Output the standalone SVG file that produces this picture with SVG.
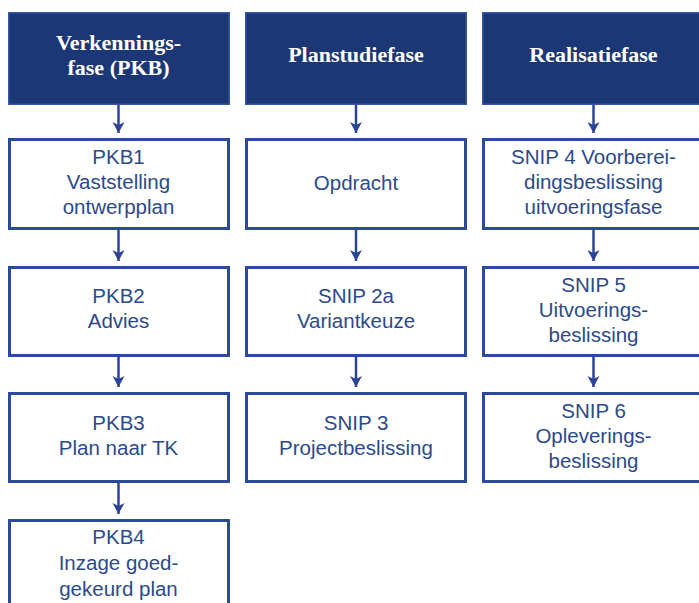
<svg xmlns="http://www.w3.org/2000/svg" width="699" height="603" viewBox="0 0 699 603">
<style>
.hdr rect{fill:#1c3775;stroke:#3656a6;stroke-width:1.5}
.hdr text{font-family:"Liberation Serif","Times New Roman",serif;font-weight:bold;font-size:22px;fill:#ffffff;text-anchor:middle}
.box rect{fill:#ffffff;stroke:#2b4a9b;stroke-width:3}
.box text{font-family:"Liberation Sans",Arial,sans-serif;font-size:20.5px;fill:#2b4a8c;text-anchor:middle}
.conn line{stroke:#2b449a;stroke-width:2.5}
</style>
<defs>
<marker id="ah" markerUnits="userSpaceOnUse" markerWidth="14" markerHeight="14" refX="12" refY="7" orient="auto" viewBox="0 0 14 14">
<path d="M1,1 L12,7 L1,13 L4,7 Z" fill="#2b449a"/>
</marker>
</defs>
<rect width="699" height="603" fill="#ffffff"/>

<g class="hdr" id="h1"><rect x="8.75" y="12.75" width="220.5" height="91.5"/><text x="118.5" y="50">Verkennings-</text><text x="118.5" y="75">fase (PKB)</text></g>
<g class="hdr" id="h2"><rect x="245.75" y="12.75" width="220.5" height="91.5"/><text x="356" y="62">Planstudiefase</text></g>
<g class="hdr" id="h3"><rect x="482.75" y="12.75" width="220.5" height="91.5"/><text x="593.5" y="62">Realisatiefase</text></g>

<g class="box" id="pkb1"><rect x="9.5" y="139.5" width="219" height="89"/><text x="118.5" y="164">PKB1</text><text x="118.5" y="189">Vaststelling</text><text x="118.5" y="214">ontwerpplan</text></g>
<g class="box" id="pkb2"><rect x="9.5" y="267.5" width="219" height="88"/><text x="118.5" y="303">PKB2</text><text x="118.5" y="328">Advies</text></g>
<g class="box" id="pkb3"><rect x="9.5" y="393.5" width="219" height="88"/><text x="118.5" y="430">PKB3</text><text x="118.5" y="455">Plan naar TK</text></g>
<g class="box" id="pkb4"><rect x="9.5" y="520.5" width="219" height="90"/><text x="118.5" y="544">PKB4</text><text x="118.5" y="570">Inzage goed-</text><text x="118.5" y="596">gekeurd plan</text></g>

<g class="box" id="opdracht"><rect x="246.5" y="139.5" width="219" height="89"/><text x="356" y="190">Opdracht</text></g>
<g class="box" id="snip2a"><rect x="246.5" y="267.5" width="219" height="88"/><text x="356" y="303">SNIP 2a</text><text x="356" y="328">Variantkeuze</text></g>
<g class="box" id="snip3"><rect x="246.5" y="393.5" width="219" height="88"/><text x="356" y="430">SNIP 3</text><text x="356" y="455">Projectbeslissing</text></g>

<g class="box" id="snip4"><rect x="483.5" y="139.5" width="219" height="89"/><text x="593.5" y="164">SNIP 4 Voorberei-</text><text x="593.5" y="189">dingsbeslissing</text><text x="593.5" y="214">uitvoeringsfase</text></g>
<g class="box" id="snip5"><rect x="483.5" y="267.5" width="219" height="88"/><text x="593.5" y="292">SNIP 5</text><text x="593.5" y="317">Uitvoerings-</text><text x="593.5" y="342">beslissing</text></g>
<g class="box" id="snip6"><rect x="483.5" y="393.5" width="219" height="88"/><text x="593.5" y="418">SNIP 6</text><text x="593.5" y="443">Opleverings-</text><text x="593.5" y="468">beslissing</text></g>

<g class="conn" id="connectors">
<line x1="118.5" y1="105" x2="118.5" y2="133" marker-end="url(#ah)"/>
<line x1="118.5" y1="230" x2="118.5" y2="261" marker-end="url(#ah)"/>
<line x1="118.5" y1="356" x2="118.5" y2="387" marker-end="url(#ah)"/>
<line x1="118.5" y1="483" x2="118.5" y2="514" marker-end="url(#ah)"/>
<line x1="356" y1="105" x2="356" y2="133" marker-end="url(#ah)"/>
<line x1="356" y1="230" x2="356" y2="261" marker-end="url(#ah)"/>
<line x1="356" y1="356" x2="356" y2="387" marker-end="url(#ah)"/>
<line x1="593.5" y1="105" x2="593.5" y2="133" marker-end="url(#ah)"/>
<line x1="593.5" y1="230" x2="593.5" y2="261" marker-end="url(#ah)"/>
<line x1="593.5" y1="356" x2="593.5" y2="387" marker-end="url(#ah)"/>
</g>
</svg>
